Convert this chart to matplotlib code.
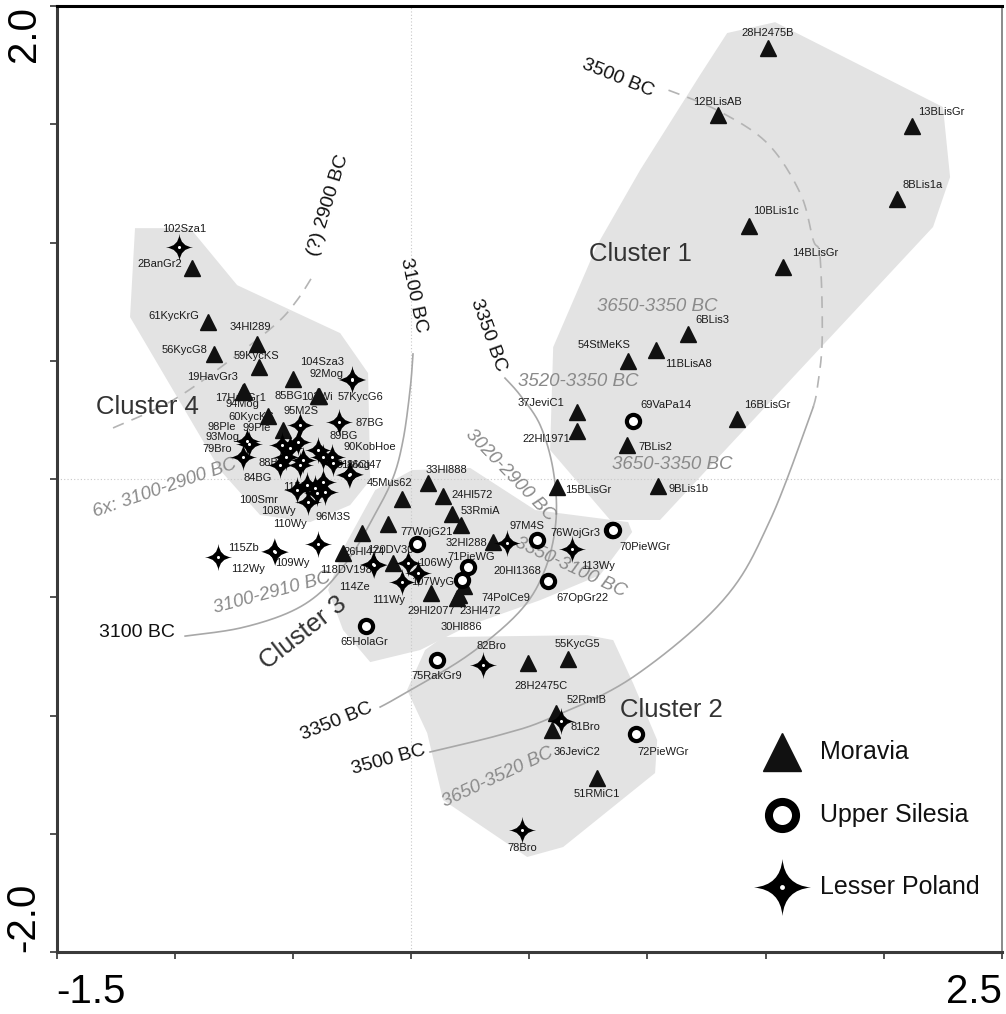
import numpy as np
import matplotlib
matplotlib.use("Agg")
import matplotlib.pyplot as plt
from matplotlib.path import Path

plt.rcParams['font.family'] = ['Liberation Sans', 'DejaVu Sans']

# ============================
# data
# ============================
mor_names = ["28H2475B", "12BLisAB", "13BLisGr", "8BLis1a", "10BLis1c", "14BLisGr", "6BLis3",
             "11BLisA8", "54StMeKS", "37JeviC1", "22Hl1971", "16BLisGr", "7BLis2", "15BLisGr",
             "9BLis1b", "2BanGr2", "61KycKrG", "34Hl289", "56KycG8", "59KycKS", "85BG", "19HavGr3",
             "17HavGr1", "57KycG6", "103Wi", "60KycKS", "99Ple", "45Mus62", "33Hl888", "24Hl572",
             "53RmiA", "", "77WojG21", "", "26Hl474", "", "29Hl2077", "23Hl472", "74PolCe9",
             "30Hl886", "32Hl288", "28H2475C", "55KycG5", "52RmIB", "36JeviC2", "51RMiC1"]
mor_x = [1.510, 1.299, 2.119, 2.056, 1.430, 1.574, 1.172, 1.036, 0.918, 0.702, 0.702, 1.379, 0.914,
         0.618, 1.045, -0.926, -0.859, -0.651, -0.833, -0.643, -0.499, -0.707, -0.711, -0.389,
         -0.393, -0.605, -0.541, -0.038, 0.072, 0.135, 0.173, 0.212, -0.097, -0.207, -0.288,
         -0.076, 0.085, 0.203, 0.224, 0.195, 0.347, 0.495, 0.664, 0.613, 0.596, 0.787]
mor_y = [1.822, 1.539, 1.493, 1.184, 1.070, 0.896, 0.613, 0.545, 0.499, 0.283, 0.203, 0.254, 0.144,
         -0.034, -0.030, 0.892, 0.664, 0.571, 0.529, 0.474, 0.423, 0.372, 0.368, 0.351, 0.351,
         0.266, 0.207, -0.085, -0.017, -0.072, -0.148, -0.195, -0.190, -0.228, -0.313, -0.355,
         -0.482, -0.490, -0.452, -0.503, -0.266, -0.778, -0.761, -0.989, -1.061, -1.264]

sil_names = ["69VaPa14", "120DV30", "71PieWG", "107WyG", "97M4S", "76WojGr3", "70PieWGr",
             "67OpGr22", "65HolaGr", "75RakGr9", "72PieWGr"]
sil_x = [0.939, 0.025, 0.241, 0.216, 0.533, 0.850, 0.852, 0.580, -0.190, 0.110, 0.952]
sil_y = [0.245, -0.275, -0.372, -0.427, -0.258, -0.216, -0.214, -0.431, -0.622, -0.765, -1.078]

lp_names = ["102Sza1", "104Sza3", "92Mog", "95M2S", "87BG", "93Mog", "98Ple", "79Bro", "94Mog",
            "", "", "88BG", "84BG", "", "", "89BG", "", "90KobHoe", "", "91Mog", "86Cl47",
            "115Za", "100Smr", "", "", "108Wy", "110Wy", "96M3S", "112Wy", "115Zb", "109Wy", "",
            "118DV198", "114Ze", "106Wy", "", "111Wy", "20Hl1368", "113Wy", "82Bro", "81Bro",
            "78Bro"]
lp_x = [-0.981, -0.250, -0.248, -0.470, -0.305, -0.685, -0.694, -0.711, -0.546, -0.512, -0.478,
        -0.554, -0.529, -0.470, -0.457, -0.393, -0.372, -0.334, -0.330, -0.262, -0.258, -0.482,
        -0.440, -0.406, -0.372, -0.436, -0.398, -0.364, -0.816, -0.580, -0.576, -0.393, -0.161,
        -0.157, -0.013, 0.030, -0.038, 0.406, 0.681, 0.305, 0.635, 0.470]
lp_y = [0.981, 0.423, 0.421, 0.228, 0.241, 0.148, 0.161, 0.093, 0.144, 0.131, 0.156, 0.059, 0.093,
        0.059, 0.080, 0.123, 0.093, 0.093, 0.068, 0.017, 0.021, -0.047, -0.025, -0.038, -0.013,
        -0.097, -0.059, -0.055, -0.330, -0.304, -0.308, -0.275, -0.359, -0.363, -0.355, -0.397,
        -0.436, -0.271, -0.296, -0.786, -1.023, -1.484]

# label offsets from the marker (pixels, y up)
label_off = {
    "28H2475B": (0, 15), "12BLisAB": (-1, 13), "13BLisGr": (29, 14), "8BLis1a": (26, 14),
    "10BLis1c": (27, 15), "14BLisGr": (32, 14), "6BLis3": (24, 14), "11BLisA8": (32, -14),
    "54StMeKS": (-24, 16), "37JeviC1": (-36, 9), "22Hl1971": (-31, -8), "16BLisGr": (30, 14),
    "7BLis2": (28, -2), "15BLisGr": (31, -3), "9BLis1b": (30, -3), "2BanGr2": (-32, 4),
    "61KycKrG": (-34, 6), "34Hl289": (-7, 17), "56KycG8": (-30, 4), "59KycKS": (-3, 11),
    "85BG": (-4, -17), "19HavGr3": (-31, 14), "17HavGr1": (-3, -6), "57KycG6": (41, -1),
    "103Wi": (-1, -1), "60KycKS": (-17, -1), "99Ple": (-27, 2), "45Mus62": (-13, 16),
    "33Hl888": (18, 13), "24Hl572": (29, 1), "53RmiA": (28, 3), "77WojG21": (38, -8),
    "26Hl474": (21, 1), "29Hl2077": (0, -18), "23Hl472": (21, -16), "74PolCe9": (42, -12),
    "30Hl886": (4, -29), "32Hl288": (-27, -1), "28H2475C": (13, -23), "55KycG5": (9, 15),
    "52RmIB": (31, 13), "36JeviC2": (25, -22), "51RMiC1": (0, -16),
    "69VaPa14": (33, 16), "120DV30": (-27, -6), "71PieWG": (3, 10), "107WyG": (-30, -2),
    "97M4S": (-10, 14), "76WojGr3": (-37, -3), "70PieWGr": (33, -17), "67OpGr22": (34, -17),
    "65HolaGr": (-2, -16), "75RakGr9": (0, -16), "72PieWGr": (27, -18),
    "102Sza1": (5, 18), "104Sza3": (-30, 17), "92Mog": (-26, 6), "95M2S": (1, 14),
    "87BG": (31, -1), "93Mog": (-27, 7), "98Ple": (-25, 14), "79Bro": (-26, 8),
    "94Mog": (-40, 41), "88BG": (-7, 2), "84BG": (-28, -21), "89BG": (25, 14),
    "90KobHoe": (38, 10), "91Mog": (4, 10), "86Cl47": (14, 9), "115Za": (1, 3),
    "100Smr": (-49, -15), "108Wy": (-30, -9), "110Wy": (-27, -31), "96M3S": (8, -25),
    "112Wy": (30, -12), "115Zb": (-31, 3), "109Wy": (17, -11), "118DV198": (-27, -6),
    "114Ze": (-20, -22), "106Wy": (27, 0), "111Wy": (-14, -18), "20Hl1368": (10, -28),
    "113Wy": (26, -17), "82Bro": (8, 19), "81Bro": (24, -6), "78Bro": (0, -18),
}

# convex hulls of the clusters
c1_x = [1.337, 1.540, 2.250, 2.280, 2.208, 1.053, 0.842, 0.588, 0.601, 0.787, 0.969, 1.222]
c1_y = [1.886, 1.932, 1.573, 1.277, 1.066, -0.173, -0.173, 0.123, 0.558, 0.989, 1.307, 1.708]
c2_x = [0.059, 0.135, 0.745, 0.855, 0.939, 1.041, 1.032, 0.643, 0.491, 0.135, 0.068, -0.017]
c2_y = [-0.723, -0.668, -0.660, -0.681, -0.863, -1.104, -1.243, -1.556, -1.598, -1.357, -1.074, -0.892]
c3_x = [-0.152, 0.004, 0.250, 0.525, 0.918, 0.935, 0.799, 0.546, 0.250, 0.038, -0.173, -0.288, -0.351, -0.279]
c3_y = [-0.047, 0.038, 0.047, -0.131, -0.182, -0.224, -0.406, -0.512, -0.617, -0.723, -0.774, -0.638, -0.469, -0.279]
c4_x = [-1.168, -0.935, -0.736, -0.300, -0.182, -0.173, -0.258, -0.427, -0.639, -0.808, -1.189]
c4_y = [1.061, 1.061, 0.820, 0.617, 0.448, -0.004, -0.110, -0.182, -0.152, 0.038, 0.685]

# isochrone curves
iso2900_x = [-1.261, -1.007, -0.753, -0.567, -0.482, -0.419]
iso2900_y = [0.216, 0.334, 0.512, 0.660, 0.757, 0.854]
iso3100_x = [-0.956, -0.723, -0.512, -0.372, -0.258, -0.173, -0.080, -0.034, -0.004, 0.008]
iso3100_y = [-0.664, -0.630, -0.562, -0.469, -0.330, -0.186, -0.004, 0.165, 0.381, 0.529]
iso3350_x = [-0.131, -0.046, 0.237, 0.461, 0.567, 0.613, 0.601, 0.546, 0.461, 0.397]
iso3350_y = [-0.964, -0.917, -0.748, -0.558, -0.381, -0.173, 0.038, 0.228, 0.355, 0.427]
iso3500_x = [0.080, 0.376, 0.588, 0.939, 1.320, 1.519, 1.701]
iso3500_y = [-1.154, -1.082, -1.011, -0.837, -0.512, -0.173, 0.304]
iso3500d_x = [1.701, 1.717, 1.739, 1.730, 1.701, 1.646, 1.506, 1.294, 1.066]
iso3500d_y = [0.304, 0.376, 0.588, 0.939, 1.011, 1.209, 1.421, 1.560, 1.653]

# text annotations: (text, x, y, rotation)
black_txt = [("3500 BC", 0.876, 1.696, -22), ("(?) 2900 BC", -0.351, 1.159, 73),
             ("3100 BC", 0.008, 0.778, -78), ("3350 BC", 0.326, 0.609, -70),
             ("3100 BC", -1.159, -0.647, 0), ("3350 BC", -0.317, -1.027, 22),
             ("3500 BC", -0.097, -1.188, 15)]
cluster_txt = [("Cluster 1", 0.969, 0.951, 0), ("Cluster 4", -1.117, 0.304, 0),
               ("Cluster 3", -0.457, -0.651, 38), ("Cluster 2", 1.100, -0.977, 0)]
gray_txt = [("3650-3350 BC", 1.041, 0.731, 0), ("3520-3350 BC", 0.706, 0.414, 0),
            ("3650-3350 BC", 1.104, 0.063, 0), ("3020-2900 BC", 0.419, 0.017, -46),
            ("3350-3100 BC", 0.673, -0.372, -25), ("3100-2910 BC", -0.588, -0.482, 15),
            ("6x: 3100-2900 BC", -1.041, -0.038, 19), ("3650-3520 BC", 0.368, -1.260, 25)]


def smooth(xs, ys, n=24):
    # catmull-rom through the read points
    pts = np.column_stack([xs, ys])
    p = np.vstack([pts[0], pts, pts[-1]])
    out = []
    t = np.linspace(0, 1, n, endpoint=False)[:, None]
    for i in range(1, len(p) - 2):
        p0, p1, p2, p3 = p[i - 1], p[i], p[i + 1], p[i + 2]
        out.append(0.5 * (2 * p1 + (-p0 + p2) * t + (2 * p0 - 5 * p1 + 4 * p2 - p3) * t ** 2
                          + (-p0 + 3 * p1 - 3 * p2 + p3) * t ** 3))
    out.append(pts[-1:])
    out = np.vstack(out)
    return out[:, 0], out[:, 1]


def star_marker(c=0.08):
    v = [(0, 1), (-c, c), (-1, 0), (-c, -c), (0, -1), (c, -c), (1, 0), (c, c), (0, 1), (0, 1)]
    codes = [Path.MOVETO] + [Path.CURVE3] * 8 + [Path.CLOSEPOLY]
    return Path(v, codes)


STAR = star_marker()
PX = 72 / 100.0  # pixel -> point

fig = plt.figure(figsize=(10.06, 10.14), dpi=100)
ax = fig.add_axes([0.0562, 0.0611, 0.9399, 0.9329])
ax.set_xlim(-1.5, 2.5)
ax.set_ylim(-2.0, 2.0)

# hulls
for hx, hy in [(c1_x, c1_y), (c2_x, c2_y), (c3_x, c3_y), (c4_x, c4_y)]:
    ax.fill(hx, hy, color="#e3e3e3", lw=0, zorder=0)

ax.axvline(0, color="#c8c8c8", lw=0.8, ls=(0, (1, 2)), zorder=1)
ax.axhline(0, color="#c8c8c8", lw=0.8, ls=(0, (1, 2)), zorder=1)

# isochrones
for cx, cy in [(iso3100_x, iso3100_y), (iso3350_x, iso3350_y), (iso3500_x, iso3500_y)]:
    sx, sy = smooth(cx, cy)
    ax.plot(sx, sy, color="#a8a8a8", lw=1.2, zorder=2)
for cx, cy in [(iso2900_x, iso2900_y), (iso3500d_x, iso3500d_y)]:
    sx, sy = smooth(cx, cy)
    ax.plot(sx, sy, color="#b4b4b4", lw=1.2, ls=(0, (7, 5)), zorder=2)

for t, x, y, r in black_txt:
    ax.text(x, y, t, fontsize=14, rotation=r, ha="center", va="center",
            color="#111111", rotation_mode="anchor", zorder=3)
for t, x, y, r in cluster_txt:
    ax.text(x, y, t, fontsize=18.5, rotation=r, ha="center", va="center",
            color="#333333", rotation_mode="anchor", zorder=3)
for t, x, y, r in gray_txt:
    ax.text(x, y, t, fontsize=13.5, rotation=r, ha="center", va="center", style="italic",
            color="#8a8a8a", rotation_mode="anchor", zorder=3)

# point labels
for names, xs, ys in [(mor_names, mor_x, mor_y), (sil_names, sil_x, sil_y), (lp_names, lp_x, lp_y)]:
    for n, x, y in zip(names, xs, ys):
        if n in label_off:
            dx, dy = label_off[n]
            ax.annotate(n, (x, y), xytext=(dx * PX, dy * PX), textcoords="offset points",
                        ha="center", va="center", fontsize=8, color="#1a1a1a", zorder=4)

# markers
ax.plot(mor_x, mor_y, ls="none", marker="^", ms=12, color="#111111", mec="#111111", zorder=5)
ax.plot(sil_x, sil_y, ls="none", marker="o", ms=9.5, mfc="white", mec="black", mew=3, zorder=5)
ax.plot(lp_x, lp_y, ls="none", marker=STAR, ms=19.5, color="black", mew=0, zorder=6)
ax.plot(lp_x, lp_y, ls="none", marker="o", ms=2.2, color="white", mew=0, zorder=7)

# legend, drawn by hand
tr = ax.transAxes
ax.plot([0.767], [0.2114], transform=tr, marker="^", ms=27, color="#111111", ls="none", zorder=8)
ax.plot([0.767], [0.1448], transform=tr, marker="o", ms=19.5, mfc="white", mec="black", mew=5.8,
        ls="none", zorder=8)
ax.plot([0.767], [0.0687], transform=tr, marker=STAR, ms=41, color="black", mew=0, ls="none", zorder=8)
ax.plot([0.767], [0.0687], transform=tr, marker="o", ms=3.5, color="white", mew=0, ls="none", zorder=9)
for t, y in [("Moravia", 0.2114), ("Upper Silesia", 0.1448), ("Lesser Poland", 0.0687)]:
    ax.text(0.8075, y, t, transform=tr, fontsize=18, ha="left", va="center", color="#111111")

# axes styling
ax.set_xticks(np.arange(-1.5, 2.51, 0.5))
ax.set_xticklabels(["-1.5"] + [""] * 7 + ["2.5"])
ax.set_yticks(np.arange(-2.0, 2.01, 0.5))
ax.set_yticklabels(["-2.0"] + [""] * 7 + ["2.0"])
ax.tick_params(direction="out", length=5, width=1.2, color="#333333", labelsize=29, pad=10)
xl = ax.get_xticklabels()
xl[0].set_ha("left")
xl[-1].set_ha("right")
yl = ax.get_yticklabels()
for lab in yl:
    lab.set_rotation(90)
yl[0].set_va("bottom")
yl[-1].set_va("top")
ax.tick_params(axis="y", pad=5)

for side in ["left", "bottom"]:
    ax.spines[side].set_color("#3a3a3a")
    ax.spines[side].set_linewidth(2.2)
ax.spines["top"].set_color("black")
ax.spines["top"].set_linewidth(2.2)
ax.spines["right"].set_color("#777777")
ax.spines["right"].set_linewidth(1.2)

fig.savefig("out.png", dpi=100)
